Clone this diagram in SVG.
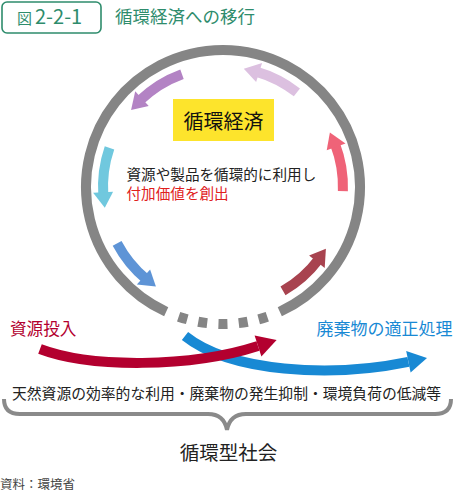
<svg xmlns="http://www.w3.org/2000/svg" width="455" height="492" viewBox="0 0 455 492">
<defs>
<style>
text{font-family:"Noto Sans CJK JP","Noto Sans",sans-serif;}
.ring{fill:none;stroke:#858585;stroke-width:10;}
.shaft{fill:none;stroke-width:10;}
.big{fill:none;stroke-width:10;}
.brace{fill:none;stroke:#8a8a8a;stroke-width:4;}
</style>
</defs>
<rect width="455" height="492" fill="#ffffff"/>
<g id="title">
<rect x="2" y="2" width="99" height="31" rx="5" fill="#ffffff" stroke="#2e8c6c" stroke-width="1.6"/>
<text x="17" y="24" font-size="15" fill="#2e8c6c">図</text>
<text x="35" y="24" font-size="20" fill="#2e8c6c">2-2-1</text>
<text x="115" y="23" font-size="17.5" fill="#2e8c6c">循環経済への移行</text>
</g>
<g id="ring">
<path class="ring" d="M166.2,311.7 A137,137 0 1 1 279.8,311.7"/>
<path class="ring" d="M166.2,311.7 A137,137 0 0 0 279.8,311.7" stroke-dasharray="0 13.4 9 11.3 9 11.3 9 11.3 9 11.3 9 60"/>
</g>
<g id="node-circular-economy">
<rect x="173" y="99" width="101" height="42" fill="#fde42c"/>
<text x="223.5" y="128.5" font-size="20" fill="#111" text-anchor="middle">循環経済</text>
</g>
<g id="node-center-text">
<text x="126.5" y="180" font-size="14.6" fill="#222">資源や製品を循環的に利用し</text>
<text x="126.5" y="199" font-size="14.6" fill="#e0201c">付加価値を創出</text>
</g>
<g id="node-input">
<text x="10" y="335" font-size="16.6" fill="#b3002f">資源投入</text>
</g>
<g id="node-disposal">
<text x="316.5" y="335" font-size="17" fill="#1889d4">廃棄物の適正処理</text>
</g>
<g id="connectors">
<g fill="#dcc0e0" stroke="#dcc0e0">
<path class="shaft" d="M296.9,92.4 A120,120 0 0 0 256.1,71.6"/>
<polygon stroke="none" points="256.1,82.1 262.1,63.0 243.8,68.8"/>
</g>
<g fill="#b383c4" stroke="#b383c4">
<path class="shaft" d="M182.0,74.2 A120,120 0 0 0 139.6,100.7"/>
<polygon stroke="none" points="148.7,105.9 135.2,91.2 131.1,109.9"/>
</g>
<g fill="#70c8de" stroke="#70c8de">
<path class="shaft" d="M109.5,147.9 A120,120 0 0 0 103.3,195.4"/>
<polygon stroke="none" points="113.1,191.8 93.1,192.7 104.8,207.8"/>
</g>
<g fill="#5e94d6" stroke="#5e94d6">
<path class="shaft" d="M117.1,243.3 A120,120 0 0 0 145.9,278.9"/>
<polygon stroke="none" points="150.1,269.4 136.9,284.4 155.9,286.5"/>
</g>
<g fill="#a8434f" stroke="#a8434f">
<path class="shaft" d="M283.0,290.9 A120,120 0 0 0 318.8,259.2"/>
<polygon stroke="none" points="309.1,255.5 324.7,267.9 325.9,248.8"/>
</g>
<g fill="#ef6378" stroke="#ef6378">
<path class="shaft" d="M342.9,191.2 A120,120 0 0 0 335.0,144.0"/>
<polygon stroke="none" points="326.7,150.3 345.5,143.6 329.9,132.5"/>
</g>
<g id="arrow-disposal">
<path class="big" stroke="#1889d4" d="M185,336 C230,372 330,378 408.4,361.8"/>
<polygon fill="#1889d4" points="406.2,351 410.6,372.6 427,358"/>
</g>
<g id="arrow-input">
<path class="big" stroke="#b3002f" d="M40,349 C90,368 190,368 258,346"/>
<polygon fill="#b3002f" points="254.6,335.5 261.4,356.5 276.6,340"/>
</g>
</g>
<g id="node-measures">
<text x="12" y="399" font-size="14.8" fill="#222">天然資源の効率的な利用・廃棄物の発生抑制・環境負荷の低減等</text>
<path class="brace" d="M4,399 Q4,414 20,414 L208,414 Q224,414 227,430 Q230,414 246,414 L435,414 Q451,414 451,399"/>
</g>
<g id="node-society">
<text x="228.5" y="459.5" font-size="19.5" fill="#222" text-anchor="middle">循環型社会</text>
</g>
<g id="source">
<text x="0" y="488.5" font-size="12.5" fill="#444">資料：環境省</text>
</g>
</svg>
